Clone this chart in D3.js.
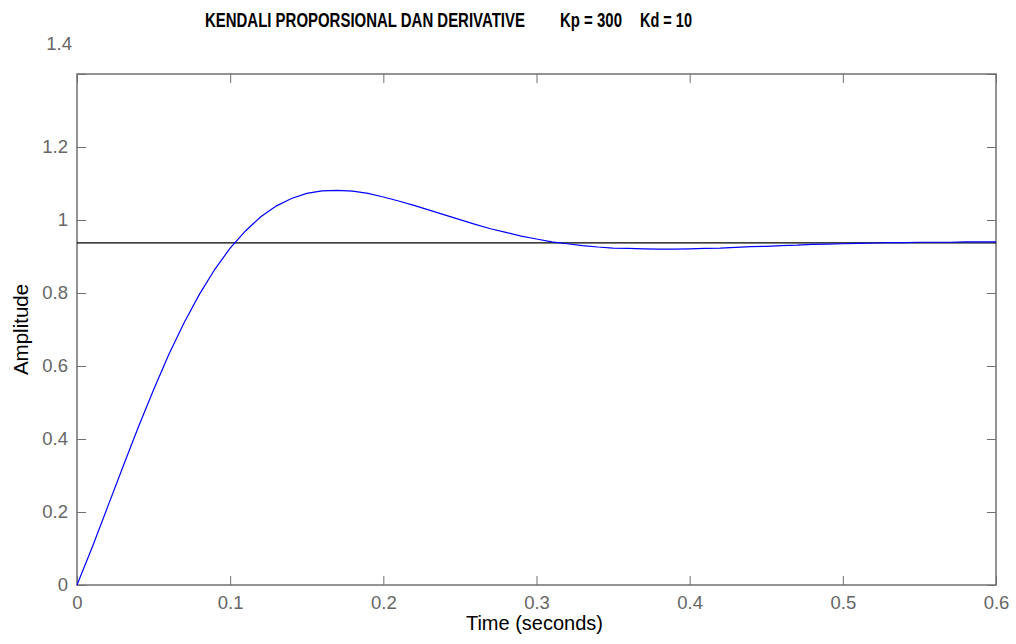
<!DOCTYPE html>
<html>
<head>
<meta charset="utf-8">
<script src="https://cdn.jsdelivr.net/npm/d3@7"></script>
<style>
  body { margin: 0; background: #fff; }
  text { font-family: "Liberation Sans", Arial, sans-serif; }
</style>
</head>
<body>
<div id="chart"></div>
<script>
// Step response data
const time = [0, 0.01, 0.02, 0.03, 0.04, 0.05, 0.06, 0.07, 0.08, 0.09,
  0.10, 0.11, 0.12, 0.13, 0.14, 0.15, 0.16, 0.17, 0.18, 0.19,
  0.20, 0.21, 0.22, 0.23, 0.24, 0.25, 0.26, 0.27, 0.28, 0.29,
  0.30, 0.31, 0.32, 0.33, 0.34, 0.35, 0.36, 0.37, 0.38, 0.39,
  0.40, 0.41, 0.42, 0.43, 0.44, 0.45, 0.46, 0.47, 0.48, 0.49,
  0.50, 0.51, 0.52, 0.53, 0.54, 0.55, 0.56, 0.57, 0.58, 0.59, 0.60];
const amplitude = [0, 0.104, 0.214, 0.324, 0.432, 0.535, 0.632, 0.719, 0.797, 0.865,
  0.923, 0.970, 1.009, 1.038, 1.059, 1.073, 1.080, 1.081, 1.079, 1.073,
  1.063, 1.052, 1.040, 1.027, 1.014, 1.001, 0.988, 0.976, 0.966, 0.956,
  0.948, 0.940, 0.935, 0.930, 0.926, 0.923, 0.922, 0.921, 0.920, 0.920,
  0.921, 0.922, 0.923, 0.925, 0.927, 0.928, 0.930, 0.931, 0.933, 0.934,
  0.935, 0.936, 0.937, 0.938, 0.938, 0.939, 0.939, 0.939, 0.940, 0.940, 0.940];
const steadyState = 0.9375;

const xTicks = [0, 0.1, 0.2, 0.3, 0.4, 0.5, 0.6];
const yTicks = [0, 0.2, 0.4, 0.6, 0.8, 1, 1.2, 1.4];

const W = 1016, H = 644;
const margin = { top: 74, right: 20, bottom: 59, left: 77 };
const iw = W - margin.left - margin.right;
const ih = H - margin.top - margin.bottom;

const svg = d3.select('#chart').append('svg')
  .attr('width', W).attr('height', H);

const g = svg.append('g').attr('transform', `translate(${margin.left},${margin.top})`);

const x = d3.scaleLinear().domain([0, 0.6]).range([0, iw]);
const y = d3.scaleLinear().domain([0, 1.4]).range([ih, 0]);

const axisColor = '#707070';
const fmt = d => (d === 0 ? '0' : d3.format('~g')(d));

// axes with inward ticks
const xb = g.append('g').attr('transform', `translate(0,${ih})`)
  .call(d3.axisBottom(x).tickValues(xTicks).tickSizeInner(-9).tickSizeOuter(0).tickPadding(11).tickFormat(fmt));
const xt = g.append('g')
  .call(d3.axisTop(x).tickValues(xTicks).tickSizeInner(-9).tickSizeOuter(0).tickFormat(''));
const yl = g.append('g')
  .call(d3.axisLeft(y).tickValues(yTicks).tickSizeInner(-9).tickSizeOuter(0).tickPadding(9).tickFormat(fmt));
const yr = g.append('g').attr('transform', `translate(${iw},0)`)
  .call(d3.axisRight(y).tickValues(yTicks).tickSizeInner(-9).tickSizeOuter(0).tickFormat(''));

[xb, xt, yl, yr].forEach(a => {
  a.select('.domain').remove();
  a.selectAll('line').attr('stroke', axisColor).attr('stroke-width', 1);
  a.selectAll('text').attr('fill', '#666').attr('font-size', 18.5)
    .attr('font-family', '"Liberation Sans", Arial, sans-serif');
});

// the top label sits above the box in the original
yl.selectAll('.tick').filter(d => d === 1.4).select('text')
  .attr('x', -5).attr('y', -30);

// box
g.append('rect')
  .attr('width', iw).attr('height', ih)
  .attr('fill', 'none').attr('stroke', axisColor).attr('stroke-width', 1.5);

// steady state line
g.append('line')
  .attr('x1', x(0)).attr('x2', x(0.6))
  .attr('y1', y(steadyState)).attr('y2', y(steadyState))
  .attr('stroke', '#000').attr('stroke-width', 1.2);

// response
const line = d3.line().x((d, i) => x(time[i])).y(d => y(d));
g.append('path')
  .datum(amplitude)
  .attr('d', line)
  .attr('fill', 'none')
  .attr('stroke', '#0000ff')
  .attr('stroke-width', 1.2);

// labels
svg.append('text')
  .attr('x', margin.left + iw / 2 - 2).attr('y', 630)
  .attr('text-anchor', 'middle').attr('font-size', 20).attr('fill', '#000')
  .text('Time (seconds)');

svg.append('text')
  .attr('transform', `translate(28,${margin.top + ih / 2}) rotate(-90)`)
  .attr('text-anchor', 'middle').attr('font-size', 20.5).attr('fill', '#000')
  .text('Amplitude');

// title pieces (condensed bold, squeezed to the original widths)
const titleParts = [
  { t: 'KENDALI PROPORSIONAL DAN DERIVATIVE', x: 205, w: 320 },
  { t: 'Kp = 300', x: 560, w: 62 },
  { t: 'Kd = 10', x: 640, w: 52 }
];
svg.selectAll('.title').data(titleParts).enter().append('text')
  .attr('class', 'title')
  .attr('font-size', 20.5).attr('font-weight', 'bold').attr('fill', '#000')
  .text(d => d.t)
  .each(function (d) {
    const nat = this.getComputedTextLength();
    d3.select(this).attr('transform', `translate(${d.x},27) scale(${d.w / nat},1)`);
  });
</script>
</body>
</html>
